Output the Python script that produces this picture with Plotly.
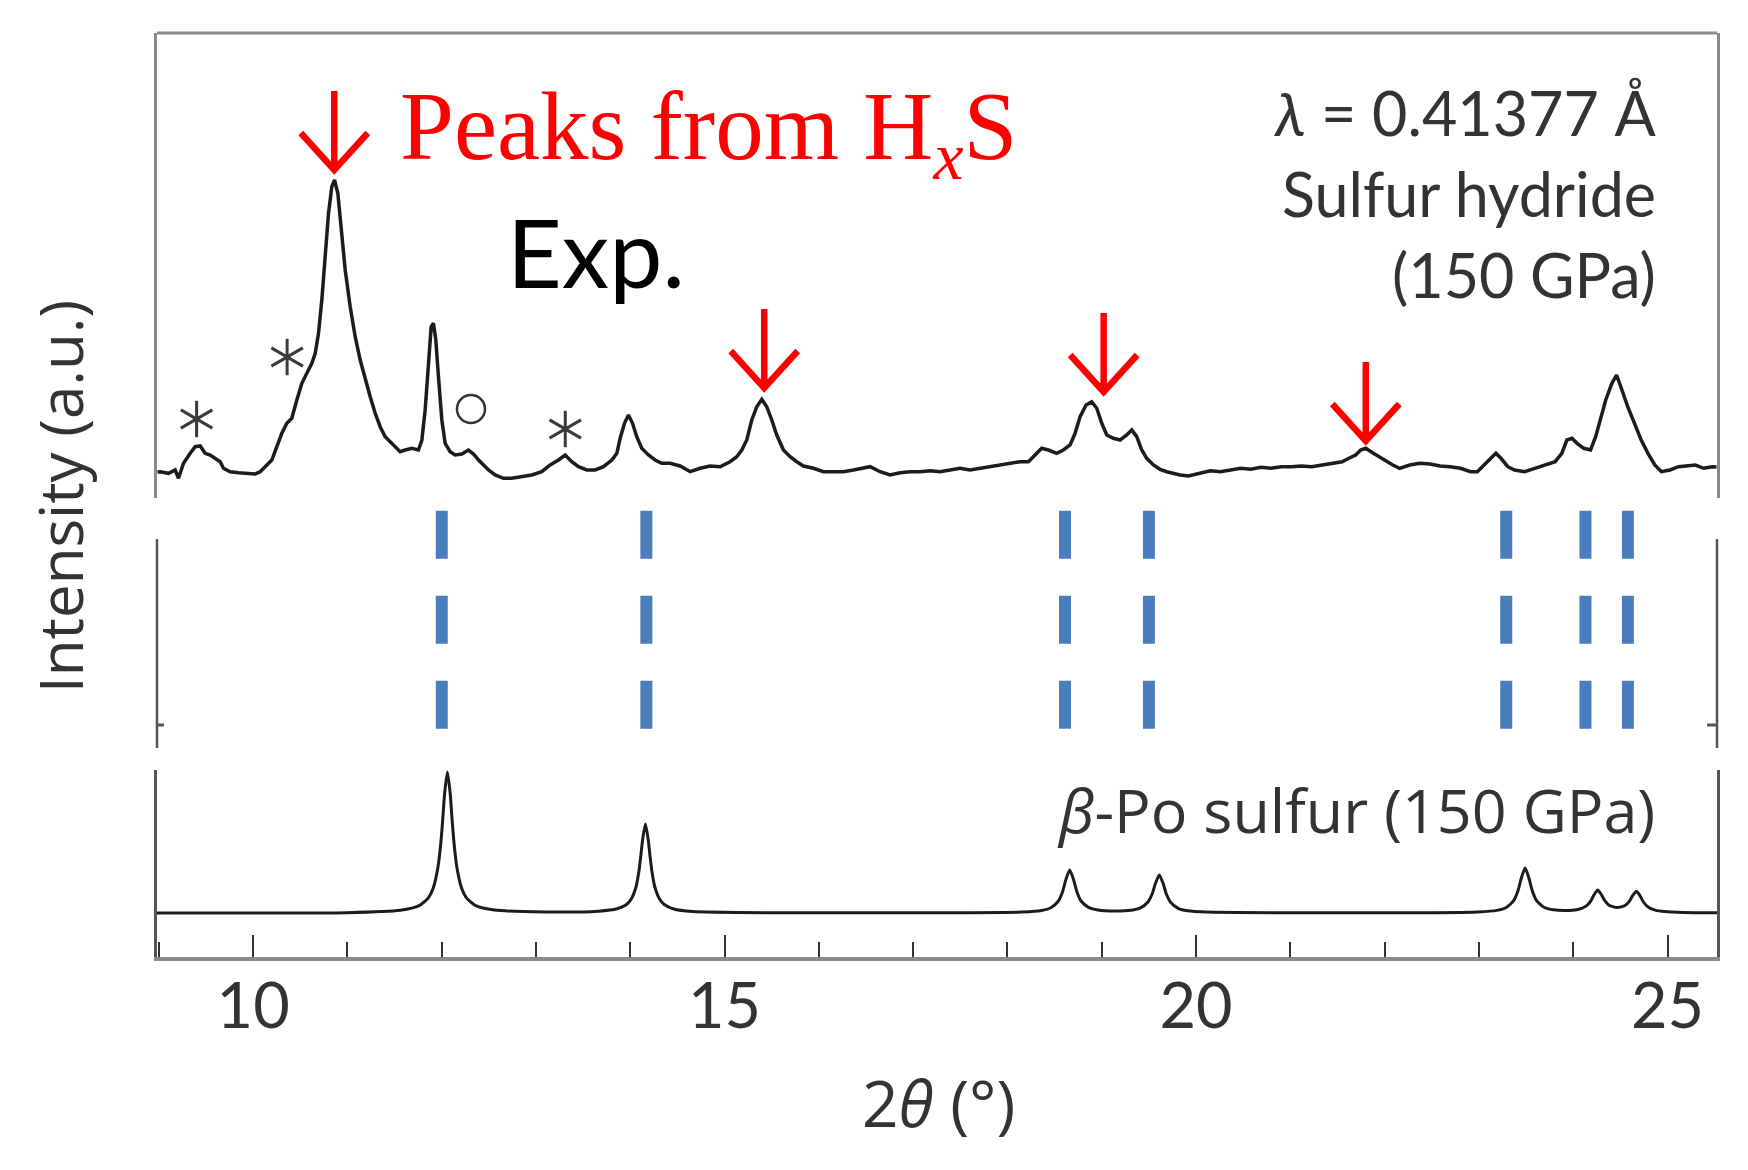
import plotly.graph_objects as go

# ---------------- data ----------------
# experimental XRD pattern of sulfur hydride (2θ in degrees, intensity a.u.)
EXP_2THETA = [
    8.985, 9.014, 9.102, 9.173, 9.208, 9.261, 9.332, 9.385, 9.438, 9.491, 9.544, 9.597, 9.650, 9.685,
    9.756, 9.844, 9.933, 10.021, 10.074, 10.145, 10.198, 10.251, 10.304, 10.357, 10.410, 10.463, 10.516,
    10.569, 10.622, 10.658, 10.693, 10.728, 10.764, 10.799, 10.834, 10.863, 10.898, 10.933, 10.976,
    11.029, 11.082, 11.135, 11.188, 11.241, 11.294, 11.347, 11.400, 11.453, 11.506, 11.559, 11.612,
    11.683, 11.753, 11.789, 11.824, 11.859, 11.888, 11.912, 11.937, 11.965, 12.001, 12.036, 12.089,
    12.142, 12.213, 12.283, 12.337, 12.390, 12.443, 12.496, 12.566, 12.655, 12.743, 12.849, 12.955,
    13.061, 13.150, 13.238, 13.309, 13.379, 13.450, 13.538, 13.627, 13.715, 13.804, 13.857, 13.892,
    13.938, 13.980, 14.023, 14.068, 14.121, 14.192, 14.263, 14.333, 14.422,
    14.528, 14.634, 14.740, 14.846, 14.952, 15.058, 15.129, 15.182, 15.235, 15.288, 15.341, 15.394,
    15.447, 15.500, 15.553, 15.624, 15.695, 15.765, 15.836, 15.942, 16.048, 16.154, 16.260, 16.366,
    16.472, 16.543, 16.649, 16.755, 16.861, 16.967, 17.073, 17.179, 17.285, 17.391, 17.497, 17.603,
    17.709, 17.815, 17.922, 18.028, 18.133, 18.222, 18.293, 18.363, 18.434, 18.522, 18.593, 18.664,
    18.717, 18.770, 18.834, 18.893, 18.947, 19.000, 19.053, 19.123, 19.194, 19.265, 19.318, 19.371,
    19.424, 19.477, 19.548, 19.618, 19.689, 19.760, 19.830, 19.919,
    20.044, 20.151, 20.259, 20.366, 20.474, 20.581, 20.689, 20.796, 20.904, 21.011, 21.119, 21.226,
    21.334, 21.442, 21.549, 21.621, 21.692, 21.746, 21.800, 21.872, 21.943, 22.015, 22.087, 22.158,
    22.266, 22.373, 22.481, 22.589, 22.696, 22.804, 22.911, 22.983, 23.055, 23.126, 23.180, 23.234,
    23.306, 23.377, 23.485, 23.593, 23.700, 23.808, 23.879, 23.933, 23.987, 24.041, 24.112, 24.184,
    24.238, 24.291, 24.345, 24.410, 24.460, 24.517, 24.578, 24.650, 24.721, 24.793, 24.865, 24.936,
    25.026, 25.116, 25.205, 25.295, 25.385, 25.474, 25.520,
]
EXP_INTENSITY = [
    28.0, 28.3, 26.7, 30.0, 21.7, 36.7, 46.7, 53.3, 54.0, 46.7, 45.0, 41.7, 38.3, 31.7,
    28.3, 27.3, 26.7, 26.0, 28.3, 35.0, 40.0, 53.3, 66.7, 76.7, 81.7, 100.0, 116.7,
    126.7, 136.7, 146.7, 166.7, 200.0, 240.0, 286.7, 313.3, 320.0, 306.7, 273.3, 230.0,
    193.3, 163.3, 140.0, 120.0, 103.3, 86.7, 73.3, 63.3, 58.3, 53.3, 48.3, 50.0,
    51.7, 50.0, 60.0, 90.0, 140.0, 173.3, 176.7, 160.0, 123.3, 80.0, 56.7, 48.3,
    45.0, 46.0, 50.0, 46.0, 40.0, 35.0, 30.0, 25.0, 21.7, 21.7, 23.3, 25.0,
    28.3, 35.0, 40.0, 45.0, 38.3, 33.3, 30.0, 30.0, 33.3, 40.0, 46.7, 61.7,
    76.7, 85.0, 76.7, 63.3, 51.7, 45.0, 40.0, 36.7, 36.7,
    34.0, 28.3, 31.7, 34.0, 33.3, 38.3, 43.3, 50.0, 60.0, 80.0, 93.3, 100.7,
    93.3, 80.0, 65.0, 50.0, 43.3, 38.3, 34.0, 31.7, 28.3, 28.3, 28.3, 30.0,
    31.7, 33.3, 28.3, 25.0, 27.3, 28.3, 28.3, 29.3, 28.3, 30.0, 31.7, 30.0,
    31.7, 34.0, 35.0, 37.3, 38.3, 38.3, 45.0, 51.7, 50.0, 46.7, 50.0, 55.0,
    66.7, 83.3, 95.0, 98.3, 91.7, 76.7, 65.0, 61.7, 60.0, 65.0, 70.0, 63.3,
    50.0, 41.7, 35.0, 30.7, 28.3, 26.7, 25.0, 24.0,
    26.7, 29.3, 28.3, 30.0, 31.7, 30.7, 32.7, 31.7, 33.3, 33.3, 34.0, 33.3,
    35.0, 36.0, 38.3, 41.7, 45.0, 50.0, 51.7, 47.3, 43.3, 38.3, 35.0, 31.7,
    35.0, 36.7, 36.0, 34.0, 33.3, 31.7, 28.3, 28.3, 35.0, 41.7, 46.7, 41.7,
    33.3, 30.0, 28.3, 31.7, 35.0, 38.3, 46.7, 60.0, 61.7, 56.7, 51.7, 50.0,
    63.3, 80.0, 100.0, 116.7, 125.0, 110.0, 93.3, 76.7, 60.0, 46.7, 35.0, 28.3,
    30.0, 33.3, 34.0, 35.0, 31.7, 33.3, 33.0,
]

# simulated pattern of beta-Po sulfur (150 GPa)
SIM_2THETA = [
    8.98, 10.0, 11.0, 11.56, 11.76, 11.86, 11.91, 11.96, 11.99, 12.01, 12.03, 12.06, 12.09, 12.11,
    12.13, 12.16, 12.21, 12.26, 12.36, 12.56, 13.1, 13.66, 13.86, 13.96, 14.01, 14.06, 14.09, 14.11,
    14.13, 14.16, 14.19, 14.21, 14.23, 14.26, 14.31, 14.36, 14.46, 14.66, 15.5, 17.0, 18.16, 18.36,
    18.46, 18.54, 18.585, 18.62, 18.66, 18.70, 18.735, 18.78, 18.86, 18.96, 19.135, 19.31, 19.41,
    19.49, 19.535, 19.57, 19.61, 19.65, 19.685, 19.73, 19.81, 19.91, 20.11, 21.0, 22.5, 22.99, 23.19,
    23.29, 23.37, 23.415, 23.45, 23.49, 23.53, 23.565, 23.61, 23.69, 23.79, 23.96, 24.06, 24.14,
    24.185, 24.22, 24.26, 24.30, 24.335, 24.38, 24.465, 24.55, 24.595, 24.63, 24.67, 24.71, 24.745,
    24.79, 24.87, 24.97, 25.17, 25.525,
]
SIM_INTENSITY = [
    0.0, 0.1, 0.3, 2.7, 7.3, 15.4, 25.0, 46.0, 70.0, 93.0, 119.0, 141.0, 119.0, 93.0,
    70.0, 46.0, 25.0, 15.4, 7.3, 2.9, 1.0, 1.8, 4.2, 8.5, 14.0, 26.0, 41.0, 56.0,
    73.0, 89.0, 73.0, 56.0, 41.0, 26.0, 14.0, 8.5, 4.0, 1.5, 0.3, 0.2, 1.0, 2.5,
    5.3, 12.0, 21.5, 33.6, 43.0, 33.6, 21.5, 12.0, 5.7, 3.0, 2.0, 2.8, 5.1,
    11.0, 19.2, 29.7, 38.0, 29.7, 19.0, 10.7, 4.7, 2.2, 0.9, 0.2, 0.3, 1.0, 2.6,
    5.5, 12.6, 22.5, 35.0, 45.0, 35.0, 22.5, 12.6, 5.8, 3.2, 2.6, 3.8, 7.1,
    11.8, 18.0, 23.0, 18.2, 12.4, 7.8, 5.4, 7.5, 11.6, 17.3, 21.7, 17.0, 11.0,
    6.3, 2.9, 1.4, 0.5, 0.2,
]

# calculated reflection positions (blue sticks)
STICK_2THETA = [12.00, 14.17, 18.61, 19.50, 23.29, 24.13, 24.58]

# red arrows marking the HxS peaks: position and tip height
ARROW_2THETA = [10.86, 15.42, 19.02, 21.80]
ARROW_TIP = [330, 112, 108, 59]

# impurity markers
STAR_2THETA = [9.40, 10.36, 13.31]
STAR_INTENSITY = [81, 143, 71]
CIRCLE_2THETA = [12.31]
CIRCLE_INTENSITY = [91]

XTICK_VALUES = [10, 15, 20, 25]
XTICK_LABELS = ["10", "15", "20", "25"]

# ---------------- layout helpers ----------------
OFF = 8                       # default page (body) margin of the html page
W, H = 1748 - OFF, 1170 - OFF
ML, MT = 157 - OFF, 33 - OFF
PW, PH = 1560, 924
MR, MB = W - ML - PW, H - MT - PH


def fx(px):
    """page pixel x -> paper fraction"""
    return (px - OFF - ML) / PW


def fy(py):
    """page pixel y -> paper fraction"""
    return (MT + PH - (py - OFF)) / PH


INK = "#1c1c1c"
TXT = "#333333"
FRAME = "#8a8a8a"
FRAME2 = "#555555"
BLUE = "#4a7dbb"
RED = "#ff0000"
SANS = "Lato, 'Open Sans', sans-serif"
WIDE = "'Open Sans', 'Noto Sans', sans-serif"

fig = go.Figure()

# experimental curve
fig.add_trace(go.Scatter(x=EXP_2THETA, y=EXP_INTENSITY, mode="lines",
                         line=dict(color=INK, width=3.5), xaxis="x", yaxis="y",
                         showlegend=False, hoverinfo="skip"))

# asterisks (three rotated strokes) and circle
for ang in (0, 60, 120):
    fig.add_trace(go.Scatter(x=STAR_2THETA, y=STAR_INTENSITY, mode="markers",
                             marker=dict(symbol="line-ns-open", size=26, angle=ang,
                                         color="#3a3a3a",
                                         line=dict(color="#3a3a3a", width=3)),
                             xaxis="x", yaxis="y", showlegend=False, hoverinfo="skip"))
fig.add_trace(go.Scatter(x=CIRCLE_2THETA, y=CIRCLE_INTENSITY, mode="markers",
                         marker=dict(symbol="circle-open", size=28, color="#333333",
                                     line=dict(color="#333333", width=2.5)),
                         xaxis="x", yaxis="y", showlegend=False, hoverinfo="skip"))

# blue stick pattern (dashed)
STICK_TOP, STICK_BOTTOM = 237.3, 19.3
for t in STICK_2THETA:
    fig.add_trace(go.Scatter(x=[t, t], y=[STICK_TOP, STICK_BOTTOM], mode="lines",
                             line=dict(color=BLUE, width=12, dash="48px,37px"),
                             xaxis="x", yaxis="y2", showlegend=False, hoverinfo="skip"))

# simulated curve
fig.add_trace(go.Scatter(x=SIM_2THETA, y=SIM_INTENSITY, mode="lines",
                         line=dict(color=INK, width=3, shape="spline", smoothing=0.6),
                         xaxis="x", yaxis="y3", showlegend=False, hoverinfo="skip"))

# red arrows
ARROW_LEN, WING_DX, WING_DY = 79, 0.355, 37
shapes = []
for ax_, tip in zip(ARROW_2THETA, ARROW_TIP):
    path = (f"M {ax_},{tip + ARROW_LEN} L {ax_},{tip} "
            f"M {ax_ - WING_DX},{tip + WING_DY} L {ax_},{tip} L {ax_ + WING_DX},{tip + WING_DY}")
    shapes.append(dict(type="path", xref="x", yref="y", path=path,
                       line=dict(color=RED, width=6.5)))

# frame pieces
shapes.append(dict(type="line", xref="paper", yref="paper", x0=0, x1=1, y0=1, y1=1,
                   line=dict(color=FRAME, width=3)))
for xe in (0, 1):
    shapes.append(dict(type="line", xref="paper", yref="paper", x0=xe, x1=xe,
                       y0=fy(748), y1=fy(539), line=dict(color=FRAME2, width=2.5)))
shapes.append(dict(type="line", xref="paper", yref="paper", x0=0, x1=fx(164),
                   y0=fy(725), y1=fy(725), line=dict(color=FRAME2, width=3)))
shapes.append(dict(type="line", xref="paper", yref="paper", x0=fx(1707), x1=1,
                   y0=fy(725), y1=fy(725), line=dict(color=FRAME2, width=3)))

annotations = [
    dict(text="Peaks from H<sub><i>x</i></sub>S", xref="paper", yref="paper",
         x=fx(398), y=fy(133), xanchor="left", yanchor="middle", showarrow=False,
         font=dict(family="'Liberation Serif', 'Times New Roman', serif", size=97, color=RED)),
    dict(text="Exp.", xref="paper", yref="paper", x=fx(505), y=fy(251),
         xanchor="left", yanchor="middle", showarrow=False,
         font=dict(family=SANS, size=95, color="#000000")),
    dict(text="<i>λ</i> = 0.41377 Å", xref="paper", yref="paper", x=fx(1658), y=fy(112),
         xanchor="right", yanchor="middle", showarrow=False,
         font=dict(family=SANS, size=61, color=TXT)),
    dict(text="Sulfur hydride", xref="paper", yref="paper", x=fx(1658), y=fy(193),
         xanchor="right", yanchor="middle", showarrow=False,
         font=dict(family=SANS, size=61, color=TXT)),
    dict(text="(150 GPa)", xref="paper", yref="paper", x=fx(1658), y=fy(274),
         xanchor="right", yanchor="middle", showarrow=False,
         font=dict(family=SANS, size=61, color=TXT)),
    dict(text="<i>β</i>-Po sulfur (150 GPa)", xref="paper", yref="paper", x=fx(1657), y=fy(809),
         xanchor="right", yanchor="middle", showarrow=False,
         font=dict(family=WIDE, size=61, color=TXT)),
    dict(text="Intensity (a.u.)", xref="paper", yref="paper", x=fx(60), y=fy(497),
         xanchor="center", yanchor="middle", textangle=-90, showarrow=False,
         font=dict(family=WIDE, size=60, color=TXT)),
    dict(text="2<i>θ</i> (°)", xref="paper", yref="paper", x=fx(938), y=fy(1102),
         xanchor="center", yanchor="middle", showarrow=False,
         font=dict(family=WIDE, size=64, color=TXT)),
]

fig.update_layout(
    width=W, height=H,
    margin=dict(l=ML, r=MR, t=MT, b=MB, pad=0),
    paper_bgcolor="white", plot_bgcolor="white",
    showlegend=False,
    shapes=shapes, annotations=annotations,
    xaxis=dict(domain=[0, 1], anchor="y3", range=[8.98, 25.525],
               showgrid=False, zeroline=False, showline=True, linecolor=FRAME, linewidth=4,
               tickmode="array", tickvals=XTICK_VALUES, ticktext=XTICK_LABELS,
               ticks="inside", ticklen=22, tickwidth=2, tickcolor="#333333",
               ticklabelstandoff=-9,
               minor=dict(tickmode="linear", tick0=0, dtick=1, ticks="inside",
                          ticklen=15, tickwidth=2, tickcolor="#333333"),
               tickfont=dict(family=SANS, size=63, color=TXT)),
    yaxis=dict(domain=[fy(498), 1], anchor="x", range=[2, 467],
               showgrid=False, zeroline=False, showline=True, mirror=True,
               linecolor=FRAME, linewidth=3, ticks="", showticklabels=False),
    yaxis2=dict(domain=[fy(748), fy(505)], anchor="x", range=[0, 243],
                showgrid=False, zeroline=False, showline=False, ticks="", showticklabels=False),
    yaxis3=dict(domain=[0, fy(770)], anchor="x", range=[-44, 143],
                showgrid=False, zeroline=False, showline=True, mirror=True,
                linecolor=FRAME2, linewidth=2.5, ticks="", showticklabels=False),
)

fig.write_html("out.html")
